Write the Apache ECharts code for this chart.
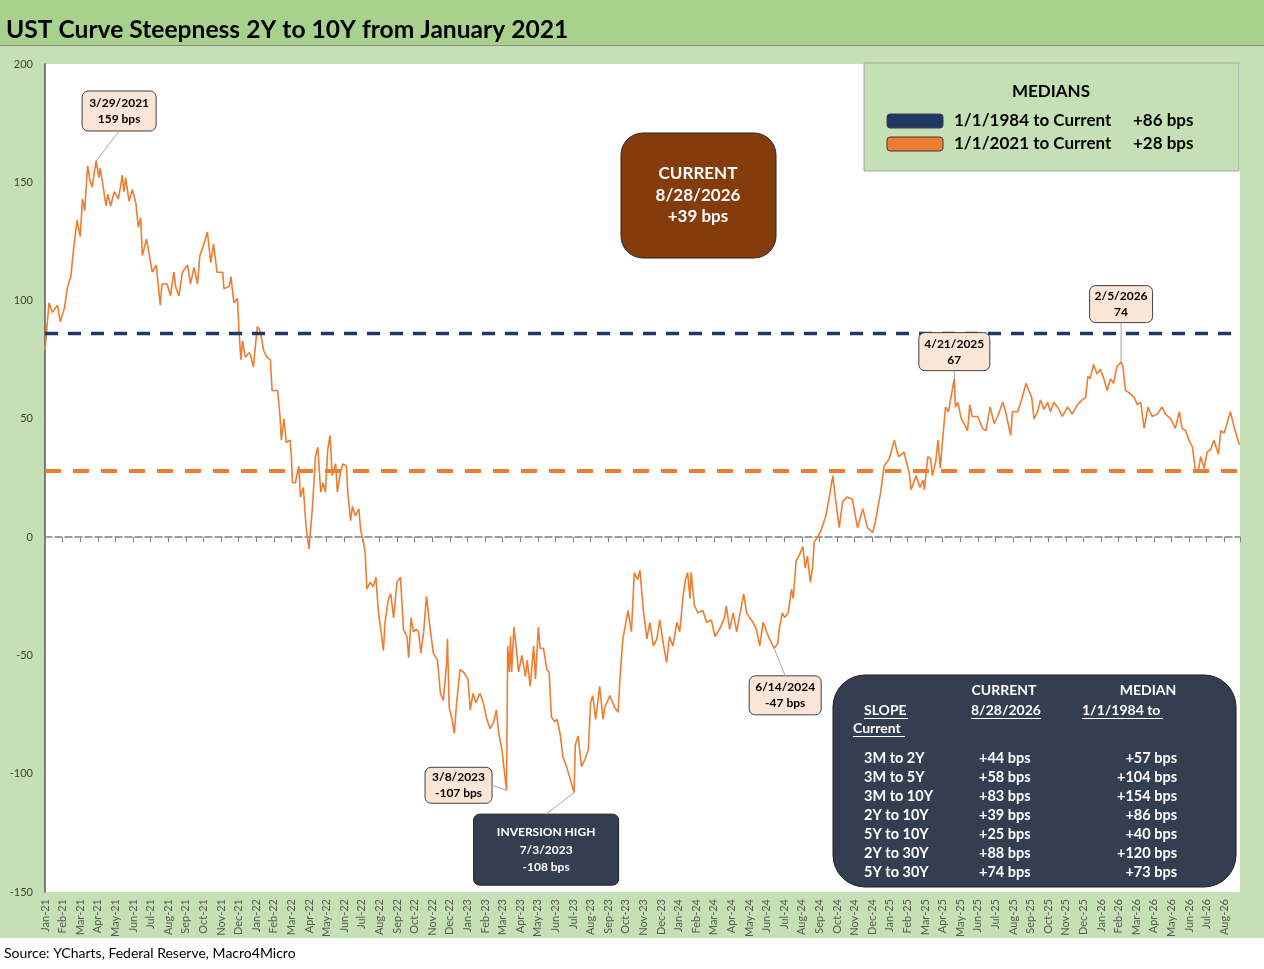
<!DOCTYPE html>
<html>
<head>
<meta charset="utf-8">
<script src="https://cdn.jsdelivr.net/npm/echarts@6/dist/echarts.min.js"></script>
<style>
  html, body { margin: 0; padding: 0; background: #ffffff; }
  #chart { width: 1264px; height: 969px; }
</style>
</head>
<body>
<div id="chart"></div>
<script>
// 2Y-10Y spread (bps)
var spread2021 = [['2021-01-01',79],['2021-01-08',99],['2021-01-14',95],['2021-01-23',98],['2021-01-28',91],['2021-02-04',97],['2021-02-09',106],['2021-02-14',110],['2021-02-19',123],['2021-02-24',134],['2021-03-01',127],['2021-03-05',143],['2021-03-09',138],['2021-03-14',157],['2021-03-18',151],['2021-03-22',148],['2021-03-29',159],['2021-04-03',152],['2021-04-05',156],['2021-04-09',150],['2021-04-15',140],['2021-04-18',145],['2021-04-23',140],['2021-04-29',146],['2021-05-06',143],['2021-05-10',148],['2021-05-13',153],['2021-05-16',146],['2021-05-19',152],['2021-05-25',142],['2021-05-31',147],['2021-06-06',141],['2021-06-10',131],['2021-06-14',135],['2021-06-17',119],['2021-06-24',126],['2021-07-04',112],['2021-07-11',115],['2021-07-18',98],['2021-07-21',107],['2021-07-30',107],['2021-08-05',102],['2021-08-11',112],['2021-08-14',106],['2021-08-20',102],['2021-08-26',112],['2021-09-04',115],['2021-09-09',107],['2021-09-15',114],['2021-09-21',107],['2021-09-25',119],['2021-10-02',124],['2021-10-08',129],['2021-10-14',116],['2021-10-19',124],['2021-10-25',112],['2021-11-04',112],['2021-11-06',105],['2021-11-15',106],['2021-11-18',110],['2021-11-23',99],['2021-11-29',101],['2021-12-02',86],['2021-12-05',75],['2021-12-08',83],['2021-12-10',80],['2021-12-13',76],['2021-12-19',78],['2021-12-22',77],['2021-12-27',72]];
var spread2022 = [['2022-01-03',89],['2022-01-06',88],['2022-01-09',86],['2022-01-14',79],['2022-01-20',76],['2022-01-26',75],['2022-01-29',62],['2022-02-07',62],['2022-02-11',51],['2022-02-13',41],['2022-02-17',50],['2022-02-21',40],['2022-02-27',41],['2022-03-01',34],['2022-03-03',23],['2022-03-08',23],['2022-03-14',30],['2022-03-17',17],['2022-03-22',21],['2022-03-27',4],['2022-04-01',-5],['2022-04-07',13],['2022-04-12',34],['2022-04-16',38],['2022-04-21',19],['2022-04-25',23],['2022-04-29',19],['2022-05-03',37],['2022-05-07',43],['2022-05-11',26],['2022-05-17',31],['2022-05-20',19],['2022-05-25',27],['2022-05-30',31],['2022-06-05',30],['2022-06-07',19],['2022-06-12',7],['2022-06-15',13],['2022-06-20',9],['2022-06-26',12],['2022-06-29',3],['2022-07-04',-2],['2022-07-07',-7],['2022-07-10',-22],['2022-07-16',-19],['2022-07-21',-21],['2022-07-26',-17],['2022-07-30',-31],['2022-08-04',-40],['2022-08-08',-48],['2022-08-11',-36],['2022-08-17',-26],['2022-08-21',-24],['2022-08-26',-34],['2022-09-01',-19],['2022-09-07',-17],['2022-09-12',-39],['2022-09-18',-42],['2022-09-21',-51],['2022-09-25',-34],['2022-09-29',-40],['2022-10-04',-39],['2022-10-08',-40],['2022-10-12',-49],['2022-10-17',-40],['2022-10-22',-25],['2022-10-28',-38],['2022-11-03',-49],['2022-11-10',-52],['2022-11-15',-66],['2022-11-20',-69],['2022-11-26',-52],['2022-11-27',-43],['2022-11-30',-72],['2022-12-05',-77],['2022-12-09',-83],['2022-12-13',-70],['2022-12-19',-56],['2022-12-25',-57]];
var spread2023 = [['2023-01-02',-60],['2023-01-06',-73],['2023-01-11',-66],['2023-01-16',-70],['2023-01-23',-66],['2023-01-29',-70],['2023-02-04',-77],['2023-02-09',-81],['2023-02-15',-78],['2023-02-19',-73],['2023-02-23',-83],['2023-02-28',-90],['2023-03-08',-107],['2023-03-10',-46],['2023-03-13',-57],['2023-03-15',-42],['2023-03-17',-57],['2023-03-21',-38],['2023-03-26',-49],['2023-03-29',-57],['2023-04-04',-50],['2023-04-10',-59],['2023-04-13',-52],['2023-04-18',-63],['2023-04-24',-46],['2023-04-27',-60],['2023-05-02',-38],['2023-05-05',-47],['2023-05-11',-47],['2023-05-17',-56],['2023-05-21',-57],['2023-05-25',-76],['2023-05-31',-78],['2023-06-04',-77],['2023-06-09',-83],['2023-06-14',-93],['2023-06-20',-97],['2023-06-26',-102],['2023-07-03',-108],['2023-07-05',-88],['2023-07-10',-84],['2023-07-16',-97],['2023-07-22',-94],['2023-07-28',-90],['2023-08-01',-70],['2023-08-05',-67],['2023-08-10',-77],['2023-08-17',-63],['2023-08-23',-77],['2023-08-26',-72],['2023-08-29',-72],['2023-09-04',-67],['2023-09-12',-72],['2023-09-18',-74],['2023-09-21',-60],['2023-09-26',-43],['2023-10-05',-31],['2023-10-11',-40],['2023-10-16',-15],['2023-10-22',-18],['2023-10-26',-14],['2023-11-01',-31],['2023-11-07',-43],['2023-11-12',-36],['2023-11-18',-46],['2023-11-24',-43],['2023-11-29',-35],['2023-12-05',-45],['2023-12-11',-53],['2023-12-16',-42],['2023-12-22',-46],['2023-12-29',-36]];
var spread2024 = [['2024-01-03',-40],['2024-01-09',-25],['2024-01-13',-18],['2024-01-17',-15],['2024-01-21',-26],['2024-01-23',-15],['2024-01-29',-29],['2024-02-04',-32],['2024-02-12',-31],['2024-02-18',-36],['2024-02-26',-35],['2024-03-03',-42],['2024-03-11',-39],['2024-03-20',-34],['2024-03-23',-29],['2024-03-29',-39],['2024-04-04',-32],['2024-04-10',-40],['2024-04-16',-32],['2024-04-22',-24],['2024-04-27',-32],['2024-05-02',-34],['2024-05-08',-36],['2024-05-14',-39],['2024-05-20',-46],['2024-05-26',-36],['2024-06-01',-40],['2024-06-06',-43],['2024-06-14',-47],['2024-06-20',-45],['2024-06-23',-38],['2024-06-28',-32],['2024-07-02',-34],['2024-07-08',-32],['2024-07-14',-22],['2024-07-17',-26],['2024-07-22',-10],['2024-07-27',-8],['2024-08-03',-4],['2024-08-07',-13],['2024-08-11',-8],['2024-08-16',-19],['2024-08-20',-13],['2024-08-23',-2],['2024-08-29',0],['2024-09-04',3],['2024-09-08',6],['2024-09-12',9],['2024-09-18',17],['2024-09-24',26],['2024-09-28',17],['2024-10-05',4],['2024-10-11',15],['2024-10-19',17],['2024-10-28',16],['2024-11-06',4],['2024-11-15',12],['2024-11-23',4],['2024-12-02',2],['2024-12-07',7],['2024-12-16',19],['2024-12-22',30],['2024-12-31',33]];
var spread2025 = [['2025-01-09',41],['2025-01-14',36],['2025-01-17',34],['2025-01-26',36],['2025-02-04',27],['2025-02-07',20],['2025-02-15',26],['2025-02-21',21],['2025-02-26',24],['2025-02-28',20],['2025-03-06',34],['2025-03-11',33],['2025-03-14',26],['2025-03-20',32],['2025-03-24',41],['2025-03-28',29],['2025-04-01',41],['2025-04-06',55],['2025-04-11',53],['2025-04-21',67],['2025-04-23',55],['2025-04-27',57],['2025-05-03',50],['2025-05-08',48],['2025-05-14',45],['2025-05-18',56],['2025-05-22',51],['2025-06-01',51],['2025-06-09',46],['2025-06-15',45],['2025-06-22',55],['2025-06-29',48],['2025-07-05',51],['2025-07-14',57],['2025-07-19',53],['2025-07-28',43],['2025-07-31',53],['2025-08-09',53],['2025-08-15',57],['2025-08-24',65],['2025-08-29',62],['2025-09-03',59],['2025-09-07',50],['2025-09-13',53],['2025-09-18',58],['2025-09-24',54],['2025-09-30',57],['2025-10-05',53],['2025-10-11',57],['2025-10-20',54],['2025-10-26',51],['2025-11-04',55],['2025-11-12',52],['2025-11-21',56],['2025-11-29',58],['2025-12-05',59],['2025-12-09',68],['2025-12-13',67],['2025-12-19',73],['2025-12-25',69],['2025-12-31',71]];
var spread2026 = [['2026-01-06',67],['2026-01-12',62],['2026-01-18',67],['2026-01-23',65],['2026-01-29',72],['2026-02-05',74],['2026-02-08',72],['2026-02-12',62],['2026-02-18',61],['2026-02-26',59],['2026-03-03',56],['2026-03-09',57],['2026-03-15',46],['2026-03-22',55],['2026-03-29',51],['2026-04-07',52],['2026-04-15',55],['2026-04-21',52],['2026-04-30',50],['2026-05-08',46],['2026-05-15',53],['2026-05-20',46],['2026-05-26',45],['2026-06-01',41],['2026-06-07',38],['2026-06-12',28],['2026-06-17',28],['2026-06-21',34],['2026-06-27',29],['2026-07-02',36],['2026-07-08',37],['2026-07-14',41],['2026-07-22',35],['2026-07-26',45],['2026-08-01',44],['2026-08-06',48],['2026-08-12',53],['2026-08-18',47],['2026-08-24',42],['2026-08-28',39]];

// medians (bps)
var medianLong = 86;   // 1/1/1984 to current
var medianShort = 28;  // 1/1/2021 to current

// x tick labels
var monthNames = ['Jan','Feb','Mar','Apr','May','Jun','Jul','Aug','Sep','Oct','Nov','Dec'];
var labelYears = ['21','22','23','24','25','26'];
var lastMonthCount = 8; // Jan-26 .. Aug-26

// callouts
var calloutDates = ['2021-03-29','2023-03-08','2023-07-03','2024-06-14','2025-04-21','2026-02-05'];
var calloutValues = [159, -107, -108, -47, 67, 74];
var calloutTexts = [['3/29/2021','159 bps'],['3/8/2023','-107 bps'],['INVERSION HIGH','7/3/2023','-108 bps'],['6/14/2024','-47 bps'],['4/21/2025','67'],['2/5/2026','74']];

// slope table
var slopeNames = ['3M to 2Y','3M to 5Y','3M to 10Y','2Y to 10Y','5Y to 10Y','2Y to 30Y','5Y to 30Y'];
var slopeCurrent = ['+44 bps','+58 bps','+83 bps','+39 bps','+25 bps','+88 bps','+74 bps'];
var slopeMedian = ['+57 bps','+104 bps','+154 bps','+86 bps','+40 bps','+120 bps','+73 bps'];

var FONT = 'Lato, "Open Sans", sans-serif';

var monthLabels = [];
labelYears.forEach(function (y, i) {
    var n = i === labelYears.length - 1 ? lastMonthCount : 12;
    for (var k = 0; k < n; k++) monthLabels.push(monthNames[k] + '-' + y);
});

/** months since 1/1/2021 */
function monthPos(d) {
    var p = d.split('-');
    var y = +p[0], m = +p[1], day = +p[2];
    var dim = new Date(y, m, 0).getDate();
    return (y - 2021) * 12 + (m - 1) + (day - 1) / dim;
}

var allPoints = [].concat(spread2021, spread2022, spread2023, spread2024, spread2025, spread2026);
var lineData = allPoints.map(function (p) { return [monthPos(p[0]), p[1]]; });

var myChart = echarts.init(document.getElementById('chart'));

var option = {
    animation: false,
    backgroundColor: '#c5e0b4',
    grid: {
        left: 45, right: 24, top: 64, bottom: 77,
        show: true, backgroundColor: '#ffffff', borderWidth: 0
    },
    xAxis: [
        {
            type: 'value', min: 0, max: 67.9, interval: 1,
            axisLine: { show: false, onZero: false },
            axisTick: { show: false },
            splitLine: { show: false },
            axisLabel: {
                rotate: 90, fontSize: 11, color: '#595959', fontFamily: FONT, margin: 7,
                showMaxLabel: false,
                formatter: function (v) {
                    return Math.abs(v - Math.round(v)) < 1e-6 ? (monthLabels[Math.round(v)] || '') : '';
                }
            }
        },
        {
            type: 'value', min: 0, max: 67.9, interval: 1, position: 'bottom',
            axisLine: { show: true, onZero: true, lineStyle: { color: '#7f7f7f', width: 1.5, type: [7, 3] } },
            axisTick: { show: true, length: 5, lineStyle: { color: '#7f7f7f', width: 1 } },
            axisLabel: { show: false },
            splitLine: { show: false }
        }
    ],
    yAxis: {
        type: 'value', min: -150, max: 200, interval: 50,
        axisLine: { show: true, lineStyle: { color: '#595959', width: 1.5 } },
        axisTick: { show: false },
        splitLine: { show: false },
        axisLabel: { fontSize: 11, color: '#404040', margin: 12, fontFamily: FONT }
    },
    series: [
        {
            name: '2Y to 10Y',
            type: 'line',
            xAxisIndex: 0,
            data: lineData,
            symbol: 'none',
            z: 3,
            lineStyle: { color: '#ed7d31', width: 1.6 },
            markLine: {
                silent: true,
                symbol: ['none', 'none'],
                label: { show: false },
                data: [
                    { yAxis: medianLong, lineStyle: { color: '#203864', width: 3.3, type: [13, 10] } },
                    { yAxis: medianShort, lineStyle: { color: '#ed7d31', width: 4, type: [16, 12] } }
                ]
            }
        }
    ]
};
myChart.setOption(option);

/** 文字 */
function txt(x, y, text, font, color, align) {
    return {
        type: 'text', z: 120, x: x, y: y,
        style: { text: text, font: font, fill: color, textAlign: align || 'left', textVerticalAlign: 'middle' }
    };
}
function rect(x, y, w, h, r, fill, stroke, lw) {
    return {
        type: 'rect', z: 110,
        shape: { x: x, y: y, width: w, height: h, r: r },
        style: { fill: fill, stroke: stroke, lineWidth: lw || 1 }
    };
}
function seg(x1, y1, x2, y2, color, lw) {
    return {
        type: 'line', z: 115,
        shape: { x1: x1, y1: y1, x2: x2, y2: y2 },
        style: { stroke: color, lineWidth: lw || 1 }
    };
}

var gra = [];
// title band and footer
gra.push(rect(0, 0, 1264, 45, 0, '#a9d18e', null, 0));
gra.push(seg(0, 45.5, 1264, 45.5, '#8c8c8c', 1));
gra.push(txt(6, 30, 'UST Curve Steepness 2Y to 10Y from January 2021', 'bold 24.6px ' + FONT, '#000000'));
gra.push(rect(0, 938, 1264, 31, 0, '#ffffff', null, 0));
gra.push(txt(4, 953, 'Source: YCharts, Federal Reserve, Macro4Micro', '14px ' + FONT, '#000000'));

// callout boxes: offset of box centre from the point, box size, leader anchor
var calloutLayout = [
    { dx: 23, dy: -50, w: 74, h: 40, anchor: 'bottom', dark: false },
    { dx: -48, dy: -5, w: 67, h: 36, anchor: 'right', dark: false },
    { dx: -28, dy: 57, w: 145, h: 71, anchor: 'top', dark: true },
    { dx: 11, dy: 47, w: 72, h: 39, anchor: 'top', dark: false },
    { dx: 0, dy: -27, w: 71, h: 38, anchor: 'bottom', dark: false },
    { dx: 0, dy: -58, w: 63, h: 37, anchor: 'bottom', dark: false }
];
calloutDates.forEach(function (d, i) {
    var p = myChart.convertToPixel({ seriesIndex: 0 }, [monthPos(d), calloutValues[i]]);
    var L = calloutLayout[i];
    var cx = p[0] + L.dx, cy = p[1] + L.dy;
    var ax = cx, ay = cy;
    if (L.anchor === 'bottom') ay = cy + L.h / 2;
    if (L.anchor === 'top') ay = cy - L.h / 2;
    if (L.anchor === 'right') ax = cx + L.w / 2;
    gra.push(seg(ax, ay, p[0], p[1], '#a6a6a6', 1));
    gra.push(rect(cx - L.w / 2, cy - L.h / 2, L.w, L.h, 6,
        L.dark ? '#333f50' : '#fbe5d6', L.dark ? '#1f1f1f' : '#404040', 1));
    var lines = calloutTexts[i];
    var lh = L.dark ? 17.5 : 16;
    lines.forEach(function (t, k) {
        gra.push(txt(cx, cy + (k - (lines.length - 1) / 2) * lh, t,
            'bold 12px ' + FONT, L.dark ? '#ffffff' : '#000000', 'center'));
    });
});

// current box
gra.push(rect(621, 133, 155, 125, 22, '#843c0c', '#262626', 1));
gra.push(txt(698, 174, 'CURRENT', 'bold 17px ' + FONT, '#ffffff', 'center'));
gra.push(txt(698, 196, '8/28/2026', 'bold 17px ' + FONT, '#ffffff', 'center'));
gra.push(txt(698, 217, '+39 bps', 'bold 17px ' + FONT, '#ffffff', 'center'));

// medians legend box
gra.push(rect(864, 63, 375, 108, 0, '#c5e0b4', '#a6a6a6', 1));
gra.push(txt(1051, 92, 'MEDIANS', 'bold 17px ' + FONT, '#000000', 'center'));
gra.push(rect(887, 114, 56, 14, 3, '#203864', '#404040', 1));
gra.push(rect(887, 137, 56, 14, 3, '#ed7d31', '#404040', 1));
gra.push(txt(954, 121, '1/1/1984 to Current', 'bold 17px ' + FONT, '#000000'));
gra.push(txt(954, 144, '1/1/2021 to Current', 'bold 17px ' + FONT, '#000000'));
gra.push(txt(1133, 121, '+' + medianLong + ' bps', 'bold 17px ' + FONT, '#000000'));
gra.push(txt(1133, 144, '+' + medianShort + ' bps', 'bold 17px ' + FONT, '#000000'));

// slope table
var tf = 'bold 14.5px ' + FONT;
gra.push(rect(833, 675, 403, 212, 32, '#333f50', '#1f1f1f', 1));
gra.push(txt(1004, 690, 'CURRENT', 'bold 14px ' + FONT, '#ffffff', 'center'));
gra.push(txt(1148, 690, 'MEDIAN', 'bold 14px ' + FONT, '#ffffff', 'center'));
gra.push(txt(864, 710, 'SLOPE', 'bold 14px ' + FONT, '#ffffff'));
gra.push(txt(971, 710, '8/28/2026', 'bold 14px ' + FONT, '#ffffff'));
gra.push(txt(1082, 710, '1/1/1984 to', 'bold 14px ' + FONT, '#ffffff'));
gra.push(txt(853, 728, 'Current', 'bold 14px ' + FONT, '#ffffff'));
gra.push(seg(864, 718.5, 908, 718.5, '#ffffff', 1));
gra.push(seg(971, 718.5, 1041, 718.5, '#ffffff', 1));
gra.push(seg(1082, 718.5, 1163, 718.5, '#ffffff', 1));
gra.push(seg(853, 736.5, 905, 736.5, '#ffffff', 1));
slopeNames.forEach(function (s, i) {
    var y = 758 + i * 19;
    gra.push(txt(864, y, s, tf, '#ffffff'));
    gra.push(txt(979, y, slopeCurrent[i], tf, '#ffffff'));
    gra.push(txt(1177, y, slopeMedian[i], tf, '#ffffff', 'right'));
});

myChart.setOption({ graphic: gra });
</script>
</body>
</html>
